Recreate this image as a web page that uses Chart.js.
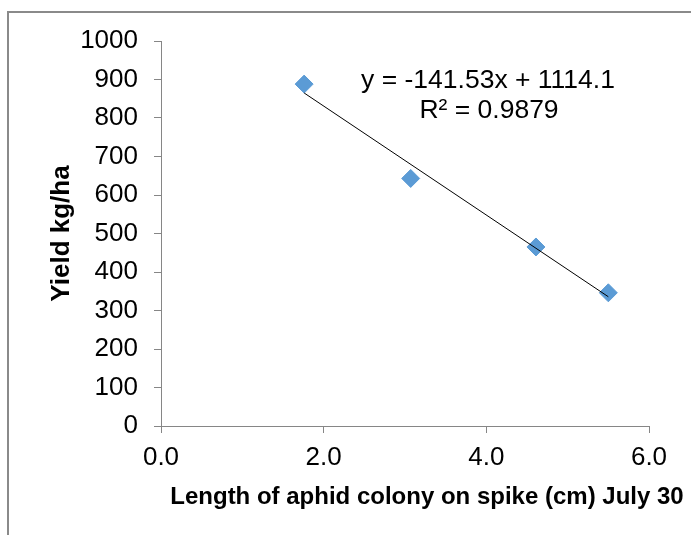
<!DOCTYPE html>
<html>
<head>
<meta charset="utf-8">
<script src="https://cdn.jsdelivr.net/npm/chart.js@4"></script>
<style>
  html, body { margin: 0; padding: 0; background: #fff; overflow: hidden; }
  #wrap { position: relative; width: 691px; height: 535px; }
  #frame { position: absolute; left: 7px; top: 11px; width: 720px; height: 600px;
           border: 2px solid #8a8a8a; box-sizing: border-box; }
  canvas { position: absolute; left: 0; top: 0; }
</style>
</head>
<body>
<div id="wrap">
  <div id="frame"></div>
  <canvas id="chart" width="691" height="535"></canvas>
</div>
<script>
// values
const colonyLength = [1.76, 3.07, 4.61, 5.50];
const yieldKgHa = [888, 643, 465, 346];

// trendline as printed on the chart
const slope = -141.53;
const intercept = 1114.1;
const equationText = 'y = -141.53x + 1114.1';
const r2Text = 'R\u00b2 = 0.9879';

const xTitle = 'Length of aphid colony on spike (cm) July 30';
const yTitle = 'Yield kg/ha';

const axisGrey = '#868686';
const font = "'Liberation Sans', Arial, sans-serif";

const points = colonyLength.map((x, i) => ({ x: x, y: yieldKgHa[i] }));
const xMin = Math.min(...colonyLength);
const xMax = Math.max(...colonyLength);
const trend = [xMin, xMax].map(x => ({ x: x, y: slope * x + intercept }));

const labelsPlugin = {
  id: 'labels',
  afterDraw(chart) {
    const ctx = chart.ctx;
    const area = chart.chartArea;
    ctx.save();
    ctx.fillStyle = '#000';
    ctx.textAlign = 'center';
    ctx.textBaseline = 'middle';

    ctx.font = '26.5px ' + font;
    ctx.fillText(equationText, 488, 81);
    ctx.fillText(r2Text, 489, 111);

    ctx.font = 'bold 24px ' + font;
    ctx.fillText(xTitle, 427, 497);

    ctx.font = 'bold 26px ' + font;
    ctx.translate(62, (area.top + area.bottom) / 2);
    ctx.rotate(-Math.PI / 2);
    ctx.fillText(yTitle, 0, 0);
    ctx.restore();
  }
};

const ctx = document.getElementById('chart').getContext('2d');
new Chart(ctx, {
  type: 'scatter',
  data: {
    datasets: [
      {
        type: 'line',
        data: trend,
        borderColor: '#000',
        borderWidth: 1,
        pointRadius: 0,
        fill: false,
        order: 0
      },
      {
        data: points,
        backgroundColor: '#5b9bd5',
        borderColor: '#5b9bd5',
        pointStyle: 'rectRot',
        pointRadius: 9,
        pointHoverRadius: 9,
        order: 1
      }
    ]
  },
  options: {
    responsive: false,
    animation: false,
    events: [],
    layout: { padding: { left: 0, top: 41, right: 42, bottom: 9 } },
    plugins: {
      legend: { display: false },
      tooltip: { enabled: false }
    },
    scales: {
      x: {
        type: 'linear',
        min: 0,
        max: 6,
        afterFit: s => { s.height = 100; },
        border: { color: axisGrey, width: 1 },
        grid: { drawOnChartArea: false, drawTicks: true, tickLength: 7, color: axisGrey },
        ticks: {
          stepSize: 2,
          padding: 9,
          color: '#000',
          font: { family: font, size: 26 },
          callback: v => v.toFixed(1)
        }
      },
      y: {
        type: 'linear',
        min: 0,
        max: 1000,
        afterFit: s => { s.width = 161; },
        border: { color: axisGrey, width: 1 },
        grid: { drawOnChartArea: false, drawTicks: true, tickLength: 7, color: axisGrey },
        ticks: {
          stepSize: 100,
          padding: 16,
          color: '#000',
          font: { family: font, size: 26 },
          callback: v => String(v)
        }
      }
    }
  },
  plugins: [labelsPlugin]
});
</script>
</body>
</html>
